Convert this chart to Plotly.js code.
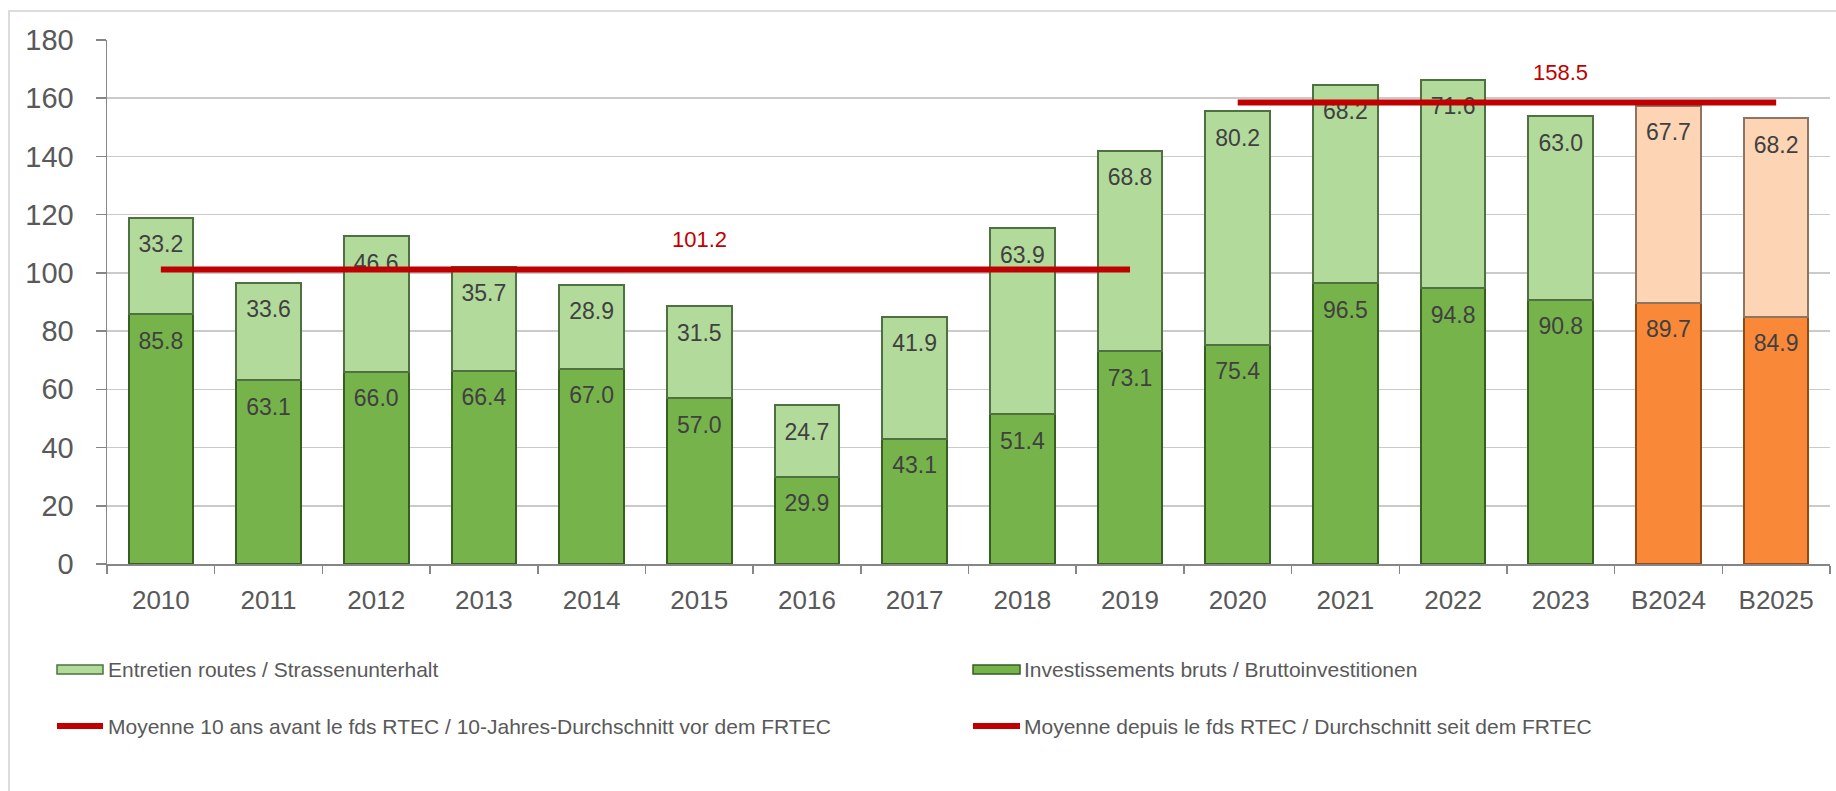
<!DOCTYPE html>
<html>
<head>
<meta charset="utf-8">
<script src="https://cdn.plot.ly/plotly-3.0.1.min.js"></script>
<style>
  html, body { margin: 0; padding: 0; background: #ffffff; }
  #frame { position: absolute; left: 8px; top: 10px; width: 3000px; height: 3000px;
           border-top: 2px solid #dcdcdc; border-left: 2px solid #dcdcdc; }
  #chart { position: absolute; left: 0; top: 0; width: 1836px; height: 791px; }
</style>
</head>
<body>
<div id="frame"></div>
<div id="chart"></div>
<script>
// ---- data ----
const categories = ['2010','2011','2012','2013','2014','2015','2016','2017','2018','2019','2020','2021','2022','2023','B2024','B2025'];
const investissements = [85.8, 63.1, 66.0, 66.4, 67.0, 57.0, 29.9, 43.1, 51.4, 73.1, 75.4, 96.5, 94.8, 90.8, 89.7, 84.9];
const entretien = [33.2, 33.6, 46.6, 35.7, 28.9, 31.5, 24.7, 41.9, 63.9, 68.8, 80.2, 68.2, 71.6, 63.0, 67.7, 68.2];
const avgBeforeValue = 101.2;
const avgBeforeSpan = ['2010', '2019'];
const avgBeforeLabelAt = '2015';
const avgSinceValue = 158.5;
const avgSinceSpan = ['2020', 'B2025'];
const avgSinceLabelAt = '2023';
const seriesNames = [
  'Entretien routes / Strassenunterhalt',
  'Investissements bruts / Bruttoinvestitionen',
  'Moyenne 10 ans avant le fds RTEC / 10-Jahres-Durchschnitt vor dem FRTEC',
  'Moyenne depuis le fds RTEC / Durchschnitt seit dem FRTEC'
];

// ---- styles ----
const FONT = 'Liberation Sans, Arial, sans-serif';
const isBudget = categories.map(c => c.startsWith('B'));
const investColor = isBudget.map(b => b ? '#f98838' : '#76b44b');
const investLine = isBudget.map(b => b ? '#8f4a18' : '#355e20');
const entretienColor = isBudget.map(b => b ? '#fdd4b4' : '#b2db9b');
const entretienLine = isBudget.map(b => b ? '#8e7463' : '#4f7040');
const RED = '#c00000';
const LABEL = '#404040';

const totals = investissements.map((v, i) => v + entretien[i]);

const W = 1836, H = 791;
const M = {l: 107, r: 6, t: 40, b: 227};
const pw = W - M.l - M.r, ph = H - M.t - M.b;
const px = x => (x - M.l) / pw;          // pixel -> paper x
const py = y => (H - M.b - y) / ph;      // pixel -> paper y

const traces = [
  {
    type: 'bar', x: categories, y: investissements, name: seriesNames[1],
    marker: {color: investColor, line: {color: investLine, width: 2}},
    hoverinfo: 'skip'
  },
  {
    type: 'bar', x: categories, y: entretien, name: seriesNames[0],
    marker: {color: entretienColor, line: {color: entretienLine, width: 2}},
    hoverinfo: 'skip'
  },
  {
    type: 'scatter', mode: 'markers+text', x: categories, y: investissements,
    text: investissements.map(v => v.toFixed(1)), textposition: 'bottom center',
    textfont: {family: FONT, size: 23, color: LABEL},
    marker: {size: 26, opacity: 0}, hoverinfo: 'skip', showlegend: false
  },
  {
    type: 'scatter', mode: 'markers+text', x: categories, y: totals,
    text: entretien.map(v => v.toFixed(1)), textposition: 'bottom center',
    textfont: {family: FONT, size: 23, color: LABEL},
    marker: {size: 26, opacity: 0}, hoverinfo: 'skip', showlegend: false
  },
  {
    type: 'scatter', mode: 'lines', x: avgBeforeSpan, y: avgBeforeSpan.map(() => avgBeforeValue),
    name: seriesNames[2], line: {color: RED, width: 6}, hoverinfo: 'skip'
  },
  {
    type: 'scatter', mode: 'lines', x: avgSinceSpan, y: avgSinceSpan.map(() => avgSinceValue),
    name: seriesNames[3], line: {color: RED, width: 6}, hoverinfo: 'skip'
  }
];

// manual legend (two columns, two rows)
const legRows = [py(669), py(726)];
const legCols = [{x0: 57, x1: 103, tx: 106}, {x0: 973, x1: 1020, tx: 1022}];
const shapes = [
  {type: 'rect', xref: 'paper', yref: 'paper', x0: px(legCols[0].x0), x1: px(legCols[0].x1),
   y0: py(674), y1: py(665), fillcolor: entretienColor[0], line: {color: entretienLine[0], width: 1.5}},
  {type: 'rect', xref: 'paper', yref: 'paper', x0: px(legCols[1].x0), x1: px(legCols[1].x1),
   y0: py(674), y1: py(665), fillcolor: investColor[0], line: {color: investLine[0], width: 1.5}},
  {type: 'line', xref: 'paper', yref: 'paper', x0: px(legCols[0].x0), x1: px(legCols[0].x1),
   y0: legRows[1], y1: legRows[1], line: {color: RED, width: 6}},
  {type: 'line', xref: 'paper', yref: 'paper', x0: px(legCols[1].x0), x1: px(legCols[1].x1),
   y0: legRows[1], y1: legRows[1], line: {color: RED, width: 6}}
];
const legendText = [
  {text: seriesNames[0], col: 0, row: 0},
  {text: seriesNames[1], col: 1, row: 0},
  {text: seriesNames[2], col: 0, row: 1},
  {text: seriesNames[3], col: 1, row: 1}
];
const annotations = legendText.map(e => ({
  xref: 'paper', yref: 'paper', x: px(legCols[e.col].tx), y: legRows[e.row],
  xanchor: 'left', yanchor: 'middle', showarrow: false, text: e.text,
  font: {family: FONT, size: 21, color: '#595959'}
}));
annotations.push(
  {x: categories.indexOf(avgBeforeLabelAt), y: avgBeforeValue, xref: 'x', yref: 'y', yshift: 30, showarrow: false,
   text: avgBeforeValue.toFixed(1), font: {family: FONT, size: 22, color: RED}},
  {x: categories.indexOf(avgSinceLabelAt), y: avgSinceValue, xref: 'x', yref: 'y', yshift: 30, showarrow: false,
   text: avgSinceValue.toFixed(1), font: {family: FONT, size: 22, color: RED}}
);

const layout = {
  width: W, height: H,
  margin: M,
  paper_bgcolor: 'rgba(0,0,0,0)', plot_bgcolor: 'rgba(0,0,0,0)',
  barmode: 'stack', bargap: 0.4,
  showlegend: false,
  font: {family: FONT, color: '#595959'},
  xaxis: {
    type: 'category', categoryorder: 'array', categoryarray: categories,
    range: [-0.5, categories.length - 0.5], autorange: false,
    showline: true, linecolor: '#868686', linewidth: 1.5, tickangle: 0,
    ticks: 'outside', tickson: 'boundaries', ticklen: 8, tickcolor: '#868686', tickwidth: 1.5,
    tickfont: {family: FONT, size: 26, color: '#595959'}, showgrid: false,
    ticklabelstandoff: 12, fixedrange: true
  },
  yaxis: {
    range: [0, 180], autorange: false, dtick: 20, showline: true, linecolor: '#868686', linewidth: 1.5,
    ticks: 'outside', ticklen: 10, tickcolor: '#868686', tickwidth: 1.5,
    tickfont: {family: FONT, size: 29, color: '#595959'},
    gridcolor: '#cacaca', gridwidth: 1.5, zeroline: false,
    ticklabelstandoff: 16, fixedrange: true
  },
  shapes: shapes,
  annotations: annotations
};

Plotly.newPlot('chart', traces, layout, {displayModeBar: false, staticPlot: true});
</script>
</body>
</html>
